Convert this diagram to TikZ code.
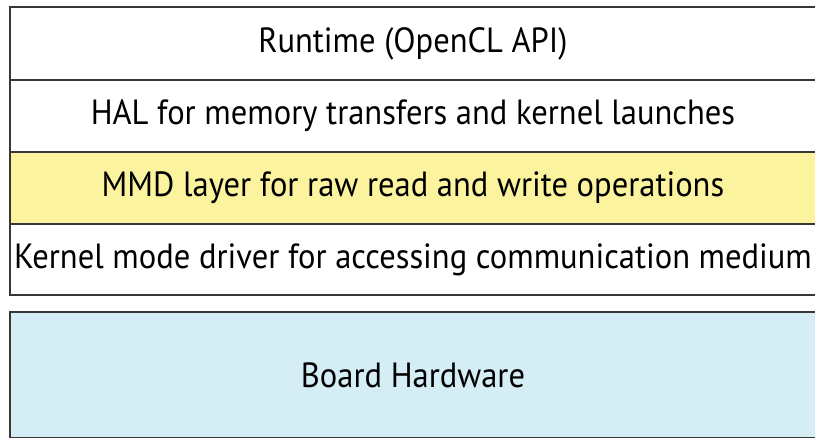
\documentclass[tikz,border=0pt]{standalone}
\usepackage{fontspec}
\setmainfont{PT Sans}[FakeStretch=0.93]
\usetikzlibrary{positioning}

\definecolor{mmdyellow}{RGB}{251,243,158}
\definecolor{boardblue}{RGB}{213,237,245}
\definecolor{edgegray}{RGB}{55,55,55}

\begin{document}
\begin{tikzpicture}[
    % one box per software layer
    every node/.style={font=\fontsize{35}{40}\selectfont},
    layer/.style={draw=edgegray, line width=1.3pt, rectangle, outer sep=0pt,
        minimum width=806pt, minimum height=72pt, inner sep=0pt,
        align=center},
    node distance=0pt
]
\useasboundingbox (0,0) rectangle (815pt,437pt);
\clip (0,0) rectangle (815pt,437pt);

% ==================== SOFTWARE STACK ====================
\node[layer, minimum height=73pt, anchor=north west] (runtime) at (10pt,430pt) {Runtime (OpenCL API)};
\node[layer, below=of runtime] (hal) {HAL for memory transfers and kernel launches};
\node[layer, fill=mmdyellow, below=of hal] (mmd) {MMD layer for raw read and write operations};
\node[layer, minimum height=71pt, below=of mmd] (kmd) {Kernel mode driver for accessing communication medium};

% ==================== HARDWARE ====================
\node[layer, fill=boardblue, minimum height=126pt, below=17pt of kmd] (board) {Board Hardware};

\end{tikzpicture}
\end{document}
